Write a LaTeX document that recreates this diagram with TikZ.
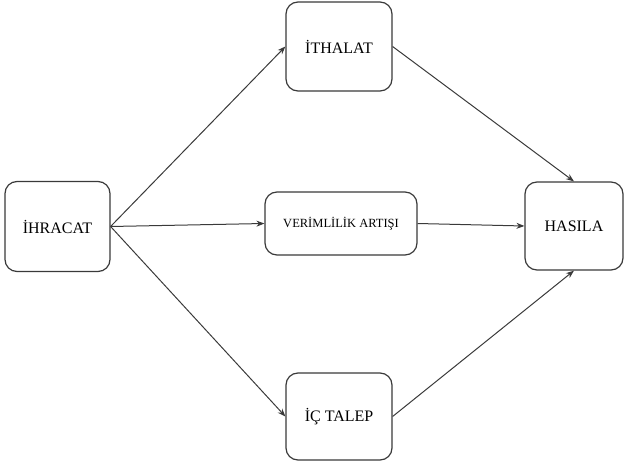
\documentclass[tikz,border=0pt]{standalone}
\usepackage{fontspec}
\setmainfont{Liberation Serif}
\usetikzlibrary{arrows.meta,positioning}
\definecolor{edgegray}{HTML}{3A3A3A}

\begin{document}
\begin{tikzpicture}[x=1pt, y=-1pt,
  box/.style={rectangle, draw=edgegray, line width=1.2pt, fill=white, rounded corners=12pt, align=center, inner sep=0pt, font=\fontsize{16}{18}\selectfont},
  arr/.style={-{Stealth[length=8pt, width=6pt]}, line width=1pt, edgegray}
]
  \useasboundingbox (0,0) rectangle (625,463);

  \node[box, minimum width=105pt, minimum height=90pt] (ihracat) at (57.5,226.5) {İHRACAT};
  \node[box, minimum width=106pt, minimum height=89pt] (ithalat) at (339,46.5) {İTHALAT};
  \node[box, minimum width=152pt, minimum height=63pt, font=\fontsize{12.5}{14}\selectfont] (verim) at (341,223.5) {VERİMLİLİK ARTIŞI};
  \node[box, minimum width=106pt, minimum height=87pt] (ictalep) at (339,416.5) {İÇ TALEP};
  \node[box, minimum width=98pt, minimum height=88pt] (hasila) at (574,226) {HASILA};

  \draw[arr] (ihracat.east) -- (ithalat.west);
  \draw[arr] (ihracat.east) -- (verim.west);
  \draw[arr] (ihracat.east) -- (ictalep.west);
  \draw[arr] (ithalat.east) -- (hasila.north);
  \draw[arr] (verim.east) -- (hasila.west);
  \draw[arr] (ictalep.east) -- (hasila.south);
\end{tikzpicture}
\end{document}
